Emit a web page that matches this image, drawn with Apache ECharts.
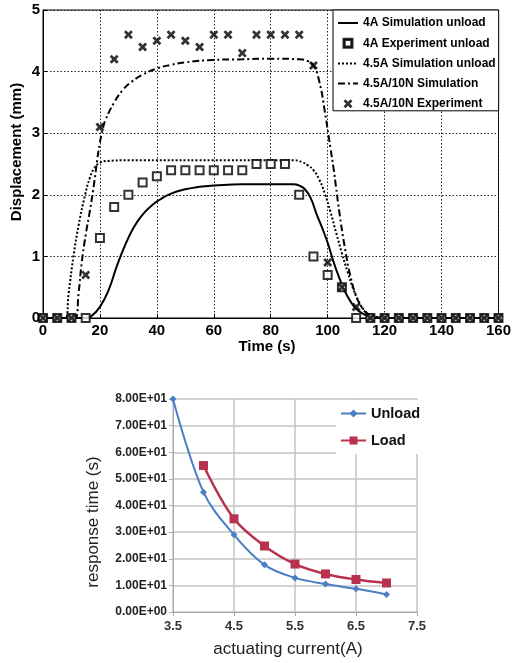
<!DOCTYPE html>
<html><head><meta charset="utf-8">
<script src="https://cdn.jsdelivr.net/npm/echarts@6/dist/echarts.min.js"></script>
<style>html,body{margin:0;padding:0;background:#fff}#c{width:514px;height:663px}</style>
</head><body><div id="c"></div><script>
// ---- Top chart data (Time s, Displacement mm) ----
var sim4A_t = [0,10,15,17,20,23,26,29,32,35,38,41,45,50,55,60,70,80,88,90,92,94,96,98,100,102,104,106,108,110,112,115,118,120,160];
var sim4A_v = [0,0,0,0.03,0.18,0.45,0.85,1.2,1.48,1.68,1.82,1.92,2.02,2.09,2.13,2.15,2.17,2.17,2.17,2.15,2.09,1.95,1.7,1.47,1.22,0.92,0.66,0.44,0.27,0.15,0.08,0.02,0.005,0,0];
var sim45A_t = [0,7.8,9,10.7,12.5,14.8,16.5,18,20,23,30,60,88,91,93,95,97,99,101,103,105,107,109,111,113,115,118,120,160];
var sim45A_v = [0,0,0.4,1.0,1.5,2.0,2.28,2.43,2.52,2.55,2.56,2.56,2.56,2.53,2.48,2.4,2.25,2.02,1.72,1.38,1.05,0.75,0.47,0.26,0.12,0.05,0.01,0,0];
var sim10N_t = [0,11.3,12.5,13.6,15,16.5,18,19,20,21,22,25,28,31,35,40,45,50,60,70,80,90,93,95,97,99,101,102,103,104,106,108,110,112,114,117,120,160];
var sim10N_v = [0,0,0.4,0.9,1.35,1.75,2.2,2.55,2.85,3.07,3.22,3.5,3.7,3.83,3.95,4.05,4.11,4.15,4.19,4.2,4.21,4.2,4.17,4.1,3.85,3.35,2.75,2.45,2.1,1.75,1.15,0.68,0.36,0.17,0.07,0.01,0,0];
var expT = [0,5,10,15,20,25,30,35,40,45,50,55,60,65,70,75,80,85,90,95,100,105,110,115,120,125,130,135,140,145,150,155,160];
var exp4A = [0,0,0,0,1.3,1.8,2.0,2.2,2.3,2.4,2.4,2.4,2.4,2.4,2.4,2.5,2.5,2.5,2.0,1.0,0.7,0.5,0,0,0,0,0,0,0,0,0,0,0];
var exp10N = [0,0,0,0.7,3.1,4.2,4.6,4.4,4.5,4.6,4.5,4.4,4.6,4.6,4.3,4.6,4.6,4.6,4.6,4.1,0.9,0.5,0.18,0,0,0,0,0,0,0,0,0,0];
var topNames = ['4A Simulation unload','4A Experiment unload','4.5A Simulation unload','4.5A/10N Simulation','4.5A/10N Experiment'];

// ---- Bottom chart data (actuating current A, response time s) ----
var current = [3.5,4,4.5,5,5.5,6,6.5,7];
var unloadTime = [80,45,29,17.7,12.8,10.5,8.7,6.6];
var loadTime = [null,55,35,24.8,18,14.3,12.2,10.9];
var bottomNames = ['Unload','Load'];

function zip(a,b){var r=[];for(var i=0;i<a.length;i++){if(b[i]!==null)r.push([a[i],b[i]]);}return r;}
function sci(v){
  if(v===0) return '0.00E+00';
  var e=Math.floor(Math.log10(Math.abs(v)));var m=v/Math.pow(10,e);
  return m.toFixed(2)+'E'+(e<0?'-':'+')+(Math.abs(e)<10?'0':'')+Math.abs(e);
}
var XPATH='path://M0,2.2L2.2,0L5,2.8L7.8,0L10,2.2L7.2,5L10,7.8L7.8,10L5,7.2L2.2,10L0,7.8L2.8,5Z';
var SQPATH='path://M0,0H10V10H0Z M1.4,1.4V8.6H8.6V1.4Z';
var F='"Liberation Sans", Arial, sans-serif';

var chart = echarts.init(document.getElementById('c'), null, {renderer:'canvas'});
chart.setOption({
  backgroundColor:'#fff',
  animation:false,
  grid:[
    {left:43, top:10, width:457, height:308, show:true, borderColor:'#000', borderWidth:1, backgroundColor:'transparent'},
    {left:173, top:399, width:244, height:213}
  ],
  xAxis:[
    {gridIndex:0, type:'value', min:0, max:160, interval:20,
     axisLine:{show:true,lineStyle:{color:'#000',width:1}},
     axisTick:{show:true,inside:true,length:4,lineStyle:{color:'#000'}},
     axisLabel:{color:'#000',fontFamily:F,fontWeight:'bold',fontSize:15,margin:5},
     splitLine:{show:true,lineStyle:{color:'#222',type:[1.5,2],width:1}}},
    {gridIndex:1, type:'value', min:3.5, max:7.5, interval:1,
     axisLine:{show:true,lineStyle:{color:'#a8a8a8',width:1}},
     axisTick:{show:true,inside:false,length:4,lineStyle:{color:'#a8a8a8'}},
     axisLabel:{color:'#333',fontFamily:F,fontWeight:'bold',fontSize:13,margin:8,formatter:function(v){return v.toFixed(1);}},
     splitLine:{show:true,lineStyle:{color:'#c4c4c4',width:1.5}}}
  ],
  yAxis:[
    {gridIndex:0, type:'value', min:0, max:5, interval:1,
     axisLine:{show:true,lineStyle:{color:'#000',width:1}},
     axisTick:{show:true,inside:true,length:4,lineStyle:{color:'#000'}},
     axisLabel:{color:'#000',fontFamily:F,fontWeight:'bold',fontSize:15,margin:3},
     splitLine:{show:true,lineStyle:{color:'#222',type:[1.5,2],width:1}}},
    {gridIndex:1, type:'value', min:0, max:80, interval:10,
     axisLine:{show:true,lineStyle:{color:'#a8a8a8',width:1}},
     axisTick:{show:true,inside:false,length:4,lineStyle:{color:'#a8a8a8'}},
     axisLabel:{color:'#222',fontFamily:F,fontWeight:'bold',fontSize:12,margin:6,formatter:sci},
     splitLine:{show:true,lineStyle:{color:'#c4c4c4',width:1.5}}}
  ],
  legend:[
    {data:[
       {name:topNames[0], itemStyle:{opacity:0}},
       {name:topNames[1], icon:SQPATH},
       {name:topNames[2], itemStyle:{opacity:0}},
       {name:topNames[3], itemStyle:{opacity:0}},
       {name:topNames[4], icon:XPATH}
     ],
     symbolKeepAspect:true,
     orient:'vertical', left:333, top:10, padding:[7,3,1,4],
     itemWidth:20, itemHeight:9, itemGap:8.2, itemTextGap:1,
     backgroundColor:'#fff', borderColor:'#000', borderWidth:1, borderRadius:0,
     textStyle:{color:'#000',fontFamily:F,fontWeight:'bold',fontSize:12}},
    {data:bottomNames, orient:'vertical', left:336, top:400, padding:[6,4,6,4],
     itemWidth:25, itemHeight:10, itemGap:12, itemTextGap:2,
     backgroundColor:'#fff', borderWidth:0,
     textStyle:{color:'#111',fontFamily:F,fontWeight:'bold',fontSize:14.5}}
  ],
  graphic:[
    {type:'text', x:267, y:347, style:{text:'Time (s)', font:'bold 15px '+F, fill:'#000', align:'center', verticalAlign:'middle'}},
    {type:'text', x:17, y:152, rotation:Math.PI/2, style:{text:'Displacement (mm)', font:'bold 15px '+F, fill:'#000', align:'center', verticalAlign:'middle'}},
    {type:'text', x:288, y:649, style:{text:'actuating current(A)', font:'17px '+F, fill:'#222', align:'center', verticalAlign:'middle'}},
    {type:'text', x:93, y:522, rotation:Math.PI/2, style:{text:'response time (s)', font:'17px '+F, fill:'#222', align:'center', verticalAlign:'middle'}}
  ],
  series:[
    {name:topNames[0], type:'line', xAxisIndex:0, yAxisIndex:0, data:zip(sim4A_t,sim4A_v),
     smooth:0.5, showSymbol:false, symbol:'none', z:2,
     lineStyle:{color:'#000',width:2}, itemStyle:{color:'#000'}},
    {name:topNames[1], type:'scatter', xAxisIndex:0, yAxisIndex:0, data:zip(expT,exp4A),
     symbol:'emptyRect', symbolSize:8, z:4,
     itemStyle:{color:'#000',borderColor:'#000',borderWidth:1.6}},
    {name:topNames[2], type:'line', xAxisIndex:0, yAxisIndex:0, data:zip(sim45A_t,sim45A_v),
     smooth:0.5, showSymbol:false, symbol:'none', z:2,
     lineStyle:{color:'#000',width:2,type:[2,2]}, itemStyle:{color:'#000'}},
    {name:topNames[3], type:'line', xAxisIndex:0, yAxisIndex:0, data:zip(sim10N_t,sim10N_v),
     smooth:0.5, showSymbol:false, symbol:'none', z:2,
     lineStyle:{color:'#000',width:2,type:[7,3,2,3]}, itemStyle:{color:'#000'}},
    {name:topNames[4], type:'scatter', xAxisIndex:0, yAxisIndex:0, data:zip(expT,exp10N),
     symbol:XPATH, symbolSize:9, z:5,
     itemStyle:{color:'#000'}},
    {name:bottomNames[0], type:'line', xAxisIndex:1, yAxisIndex:1, data:zip(current,unloadTime),
     smooth:0.35, symbol:'diamond', symbolSize:7, showSymbol:true,
     lineStyle:{color:'#4A7DC4',width:2}, itemStyle:{color:'#4A7DC4'}},
    {name:bottomNames[1], type:'line', xAxisIndex:1, yAxisIndex:1, data:zip(current,loadTime),
     smooth:0.35, symbol:'rect', symbolSize:9, showSymbol:true,
     lineStyle:{color:'#B8314F',width:2.5}, itemStyle:{color:'#B8314F'}}
  ]
});
</script></body></html>
